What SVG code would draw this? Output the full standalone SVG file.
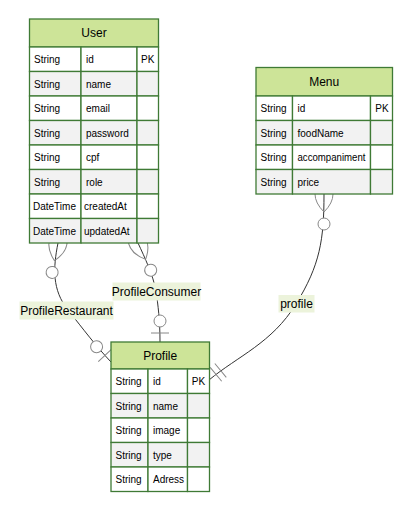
<svg xmlns="http://www.w3.org/2000/svg" width="420" height="521" viewBox="0 0 420 521">
<style>
.hdr{fill:#cde498;stroke:#3f7a35;stroke-width:1.3}
.ro{fill:#ffffff;stroke:#3f7a35;stroke-width:1.3}
.re{fill:#f2f2f2;stroke:#3f7a35;stroke-width:1.3}
.ht{font-family:"Liberation Sans",Arial,sans-serif;font-size:12px;fill:#000;text-anchor:middle}
.at{font-family:"Liberation Sans",Arial,sans-serif;font-size:10px;fill:#000}
.pk{font-family:"Liberation Sans",Arial,sans-serif;font-size:10px;fill:#000;text-anchor:middle}
.rel{fill:none;stroke:#333;stroke-width:1}
.lbg{fill:#ecf3db;stroke:none}
.lt{font-family:"Liberation Sans",Arial,sans-serif;font-size:12px;fill:#000;text-anchor:middle}
.mk{stroke:#888;stroke-width:1;fill:none}
.mkc{stroke:#888;stroke-width:1;fill:#fff}
</style>
<defs>
<marker id="zeroOrMoreStart" markerUnits="userSpaceOnUse" markerWidth="57" markerHeight="36" refX="18" refY="18" orient="auto" overflow="visible">
<circle class="mkc" cx="48" cy="18" r="6"/>
<path class="mk" d="M0,18 Q18,0 36,18 Q18,36 0,18"/>
</marker>
<marker id="zeroOrOneEnd" markerUnits="userSpaceOnUse" markerWidth="30" markerHeight="18" refX="30" refY="9" orient="auto" overflow="visible">
<circle class="mkc" cx="9" cy="9" r="6"/>
<path class="mk" d="M21,0 L21,18"/>
</marker>
<marker id="onlyOneEnd" markerUnits="userSpaceOnUse" markerWidth="18" markerHeight="18" refX="18" refY="9" orient="auto" overflow="visible">
<path class="mk" d="M3,0 L3,18 M9,0 L9,18"/>
</marker>
</defs>
<rect width="420" height="521" fill="#ffffff"/>
<g id="connectors">
<path class="rel" d="M58,243 C53,268 52,290 68,310 C84,330 95,345 111,362" marker-start="url(#zeroOrMoreStart)" marker-end="url(#zeroOrOneEnd)"/>
<path class="rel" d="M138,243 C145,258 153,275 156,291 C158,305 160,320 160,342" marker-start="url(#zeroOrMoreStart)" marker-end="url(#zeroOrOneEnd)"/>
<path class="rel" d="M324,194 C324,240 320,265 296,304 C272,343 238,356 209,380" marker-start="url(#zeroOrMoreStart)" marker-end="url(#onlyOneEnd)"/>
<g id="label-ProfileRestaurant">
<rect class="lbg" x="19.5" y="301.5" width="94" height="18"/>
<text class="lt" x="66.5" y="314.5">ProfileRestaurant</text>
</g>
<g id="label-ProfileConsumer">
<rect class="lbg" x="112.5" y="282.5" width="88" height="18"/>
<text class="lt" x="156.5" y="295.5">ProfileConsumer</text>
</g>
<g id="label-profile">
<rect class="lbg" x="278.5" y="295" width="36" height="17.5"/>
<text class="lt" x="296.5" y="307.8">profile</text>
</g>
</g>
<g id="User">
<rect class="hdr" x="29.5" y="19" width="129" height="28"/>
<text class="ht" x="94" y="37.3">User</text>
<rect class="ro" x="29.5" y="47" width="51.5" height="24.5"/><rect class="ro" x="81" y="47" width="56" height="24.5"/><rect class="ro" x="137" y="47" width="21.5" height="24.5"/>
<rect class="re" x="29.5" y="71.5" width="51.5" height="24.5"/><rect class="re" x="81" y="71.5" width="56" height="24.5"/><rect class="re" x="137" y="71.5" width="21.5" height="24.5"/>
<rect class="ro" x="29.5" y="96" width="51.5" height="24.5"/><rect class="ro" x="81" y="96" width="56" height="24.5"/><rect class="ro" x="137" y="96" width="21.5" height="24.5"/>
<rect class="re" x="29.5" y="120.5" width="51.5" height="24.5"/><rect class="re" x="81" y="120.5" width="56" height="24.5"/><rect class="re" x="137" y="120.5" width="21.5" height="24.5"/>
<rect class="ro" x="29.5" y="145" width="51.5" height="24.5"/><rect class="ro" x="81" y="145" width="56" height="24.5"/><rect class="ro" x="137" y="145" width="21.5" height="24.5"/>
<rect class="re" x="29.5" y="169.5" width="51.5" height="24.5"/><rect class="re" x="81" y="169.5" width="56" height="24.5"/><rect class="re" x="137" y="169.5" width="21.5" height="24.5"/>
<rect class="ro" x="29.5" y="194" width="51.5" height="24.5"/><rect class="ro" x="81" y="194" width="56" height="24.5"/><rect class="ro" x="137" y="194" width="21.5" height="24.5"/>
<rect class="re" x="29.5" y="218.5" width="51.5" height="24.5"/><rect class="re" x="81" y="218.5" width="56" height="24.5"/><rect class="re" x="137" y="218.5" width="21.5" height="24.5"/>
<text class="at" x="34" y="63">String</text><text class="at" x="86" y="63">id</text><text class="pk" x="147.7" y="63">PK</text>
<text class="at" x="34" y="87.5">String</text><text class="at" x="86" y="87.5">name</text>
<text class="at" x="34" y="112">String</text><text class="at" x="86" y="112">email</text>
<text class="at" x="34" y="136.5">String</text><text class="at" x="86" y="136.5">password</text>
<text class="at" x="34" y="161">String</text><text class="at" x="86" y="161">cpf</text>
<text class="at" x="34" y="185.5">String</text><text class="at" x="86" y="185.5">role</text>
<text class="at" x="33" y="210">DateTime</text><text class="at" x="84" y="210">createdAt</text>
<text class="at" x="33" y="234.5">DateTime</text><text class="at" x="84" y="234.5">updatedAt</text>
</g>
<g id="Menu">
<rect class="hdr" x="256" y="67.5" width="136.5" height="28.5"/>
<text class="ht" x="324.2" y="86">Menu</text>
<rect class="ro" x="256" y="96" width="36.5" height="24.5"/><rect class="ro" x="292.5" y="96" width="78" height="24.5"/><rect class="ro" x="370.5" y="96" width="22" height="24.5"/>
<rect class="re" x="256" y="120.5" width="36.5" height="24.5"/><rect class="re" x="292.5" y="120.5" width="78" height="24.5"/><rect class="re" x="370.5" y="120.5" width="22" height="24.5"/>
<rect class="ro" x="256" y="145" width="36.5" height="24.5"/><rect class="ro" x="292.5" y="145" width="78" height="24.5"/><rect class="ro" x="370.5" y="145" width="22" height="24.5"/>
<rect class="re" x="256" y="169.5" width="36.5" height="24.5"/><rect class="re" x="292.5" y="169.5" width="78" height="24.5"/><rect class="re" x="370.5" y="169.5" width="22" height="24.5"/>
<text class="at" x="260.5" y="112">String</text><text class="at" x="297.5" y="112">id</text><text class="pk" x="382" y="112">PK</text>
<text class="at" x="260.5" y="136.5">String</text><text class="at" x="297.5" y="136.5">foodName</text>
<text class="at" x="260.5" y="161">String</text><text class="at" x="297.5" y="161" textLength="68" lengthAdjust="spacingAndGlyphs">accompaniment</text>
<text class="at" x="260.5" y="185.5">String</text><text class="at" x="297.5" y="185.5">price</text>
</g>
<g id="Profile">
<rect class="hdr" x="111" y="342" width="98.5" height="27"/>
<text class="ht" x="160.2" y="360">Profile</text>
<rect class="ro" x="111" y="369" width="37" height="24.5"/><rect class="ro" x="148" y="369" width="39.5" height="24.5"/><rect class="ro" x="187.5" y="369" width="22" height="24.5"/>
<rect class="re" x="111" y="393.5" width="37" height="24.5"/><rect class="re" x="148" y="393.5" width="39.5" height="24.5"/><rect class="re" x="187.5" y="393.5" width="22" height="24.5"/>
<rect class="ro" x="111" y="418" width="37" height="24.5"/><rect class="ro" x="148" y="418" width="39.5" height="24.5"/><rect class="ro" x="187.5" y="418" width="22" height="24.5"/>
<rect class="re" x="111" y="442.5" width="37" height="24.5"/><rect class="re" x="148" y="442.5" width="39.5" height="24.5"/><rect class="re" x="187.5" y="442.5" width="22" height="24.5"/>
<rect class="ro" x="111" y="467" width="37" height="24.5"/><rect class="ro" x="148" y="467" width="39.5" height="24.5"/><rect class="ro" x="187.5" y="467" width="22" height="24.5"/>
<text class="at" x="115.5" y="385">String</text><text class="at" x="153" y="385">id</text><text class="pk" x="198.5" y="385">PK</text>
<text class="at" x="115.5" y="409.5">String</text><text class="at" x="153" y="409.5">name</text>
<text class="at" x="115.5" y="434">String</text><text class="at" x="153" y="434">image</text>
<text class="at" x="115.5" y="458.5">String</text><text class="at" x="153" y="458.5">type</text>
<text class="at" x="115.5" y="483">String</text><text class="at" x="153" y="483">Adress</text>
</g>
</svg>
